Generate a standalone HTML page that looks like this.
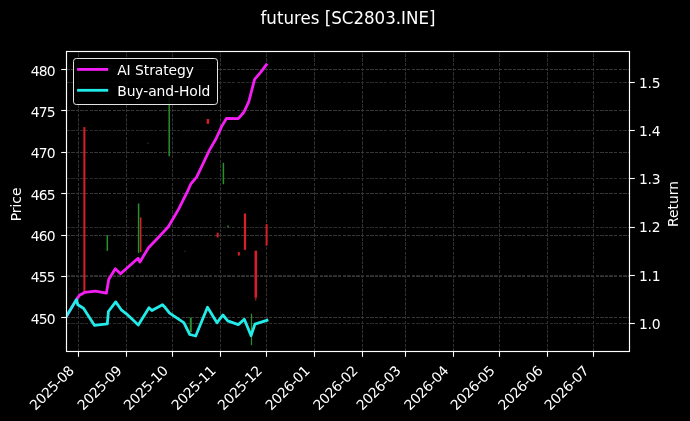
<!DOCTYPE html><html><head><meta charset="utf-8"><style>html,body{margin:0;padding:0;background:#000;}svg{display:block}text{font-family:'DejaVu Sans','Liberation Sans',sans-serif}</style></head><body>
<svg width="690" height="421" viewBox="0 0 690 421">
<rect width="690" height="421" fill="#000"/>
<g stroke-width="1" stroke-dasharray="3.4,1.2" shape-rendering="crispEdges"><line x1="78.50" y1="351.50" x2="78.50" y2="51.50" stroke="#303030"/><line x1="126.50" y1="351.50" x2="126.50" y2="51.50" stroke="#303030"/><line x1="172.50" y1="351.50" x2="172.50" y2="51.50" stroke="#303030"/><line x1="220.50" y1="351.50" x2="220.50" y2="51.50" stroke="#303030"/><line x1="266.50" y1="351.50" x2="266.50" y2="51.50" stroke="#303030"/><line x1="314.50" y1="351.50" x2="314.50" y2="51.50" stroke="#303030"/><line x1="362.50" y1="351.50" x2="362.50" y2="51.50" stroke="#303030"/><line x1="405.50" y1="351.50" x2="405.50" y2="51.50" stroke="#303030"/><line x1="453.50" y1="351.50" x2="453.50" y2="51.50" stroke="#303030"/><line x1="499.50" y1="351.50" x2="499.50" y2="51.50" stroke="#303030"/><line x1="547.50" y1="351.50" x2="547.50" y2="51.50" stroke="#303030"/><line x1="593.50" y1="351.50" x2="593.50" y2="51.50" stroke="#303030"/><line x1="66.50" y1="317.50" x2="629.50" y2="317.50" stroke="#363636"/><line x1="66.50" y1="276.50" x2="629.50" y2="276.50" stroke="#363636"/><line x1="66.50" y1="235.50" x2="629.50" y2="235.50" stroke="#363636"/><line x1="66.50" y1="193.50" x2="629.50" y2="193.50" stroke="#363636"/><line x1="66.50" y1="152.50" x2="629.50" y2="152.50" stroke="#363636"/><line x1="66.50" y1="110.50" x2="629.50" y2="110.50" stroke="#363636"/><line x1="66.50" y1="69.50" x2="629.50" y2="69.50" stroke="#363636"/><line x1="66.50" y1="323.50" x2="629.50" y2="323.50" stroke="#2a2a2a"/><line x1="66.50" y1="275.50" x2="629.50" y2="275.50" stroke="#2a2a2a"/><line x1="66.50" y1="227.50" x2="629.50" y2="227.50" stroke="#2a2a2a"/><line x1="66.50" y1="178.50" x2="629.50" y2="178.50" stroke="#2a2a2a"/><line x1="66.50" y1="130.50" x2="629.50" y2="130.50" stroke="#2a2a2a"/><line x1="66.50" y1="82.50" x2="629.50" y2="82.50" stroke="#2a2a2a"/></g>
<rect x="83.40" y="127.10" width="2.00" height="165.90" fill="#d42028"/>
<rect x="106.55" y="235.20" width="1.50" height="15.70" fill="#289028"/>
<rect x="137.85" y="203.50" width="1.50" height="49.40" fill="#289028"/>
<rect x="139.95" y="217.40" width="1.50" height="34.70" fill="#d42028"/>
<rect x="147.20" y="142.60" width="1.40" height="1.40" fill="#3a2424"/>
<rect x="168.45" y="97.00" width="1.50" height="59.30" fill="#289028"/>
<rect x="184.20" y="250.60" width="1.40" height="1.40" fill="#302020"/>
<rect x="189.80" y="317.60" width="2.00" height="14.40" fill="#289028"/>
<rect x="206.65" y="119.00" width="2.50" height="4.80" fill="#d42028"/>
<rect x="216.60" y="232.70" width="2.00" height="4.80" fill="#d42028"/>
<rect x="222.65" y="162.80" width="1.50" height="21.40" fill="#289028"/>
<rect x="227.25" y="225.50" width="1.50" height="1.70" fill="#289028"/>
<rect x="237.80" y="252.00" width="2.00" height="3.60" fill="#d42028"/>
<rect x="243.85" y="213.50" width="2.30" height="36.40" fill="#d42028"/>
<rect x="250.90" y="313.70" width="1.20" height="31.50" fill="#289028"/>
<rect x="254.50" y="250.70" width="2.60" height="47.00" fill="#d42028"/>
<rect x="255.30" y="297.70" width="1.00" height="2.80" fill="#d42028"/>
<rect x="265.60" y="224.20" width="2.00" height="21.40" fill="#d42028"/>
<defs><clipPath id="ax"><rect x="66.50" y="51.50" width="563.00" height="300.00"/></clipPath></defs>
<g clip-path="url(#ax)"><polyline fill="none" stroke="#f41ef4" stroke-width="2.8" stroke-linejoin="round" stroke-linecap="square" points="66.9,315.5 76.4,299.6 79.5,295.2 84.6,292.4 95.5,291.2 106.4,293.2 108.7,279.5 115.3,268.8 120.6,273.8 138.0,258.2 139.9,262.0 148.5,247.8 158.6,237.2 168.3,226.8 178.5,209.4 188.0,190.4 190.9,183.8 196.6,177.1 202.6,164.6 209.3,150.4 215.9,139.0 221.6,126.6 226.4,118.5 238.3,118.6 244.0,112.0 248.8,101.6 254.6,79.4 260.8,72.1 266.3,64.8"/><polyline fill="none" stroke="#22ecea" stroke-width="2.8" stroke-linejoin="round" stroke-linecap="square" points="66.9,315.5 76.4,299.6 77.8,304.8 83.5,308.2 94.4,325.3 107.3,323.8 108.4,311.5 115.7,301.9 121.6,310.2 126.4,313.8 138.3,325.0 149.0,307.8 151.9,310.5 162.5,304.8 165.4,307.8 169.6,313.2 183.8,322.7 189.8,334.5 195.7,336.0 207.5,307.2 217.0,322.7 222.9,315.0 227.7,320.9 238.3,324.6 244.3,319.2 251.1,335.6 254.9,324.2 267.0,320.3"/></g>
<rect x="66.50" y="51.50" width="563.00" height="300.00" fill="none" stroke="#fff" stroke-width="1.15"/>
<g stroke="#fff" stroke-width="1.1"><line x1="78.50" y1="351.50" x2="78.50" y2="356.80"/><line x1="126.50" y1="351.50" x2="126.50" y2="356.80"/><line x1="172.50" y1="351.50" x2="172.50" y2="356.80"/><line x1="220.50" y1="351.50" x2="220.50" y2="356.80"/><line x1="266.50" y1="351.50" x2="266.50" y2="356.80"/><line x1="314.50" y1="351.50" x2="314.50" y2="356.80"/><line x1="362.50" y1="351.50" x2="362.50" y2="356.80"/><line x1="405.50" y1="351.50" x2="405.50" y2="356.80"/><line x1="453.50" y1="351.50" x2="453.50" y2="356.80"/><line x1="499.50" y1="351.50" x2="499.50" y2="356.80"/><line x1="547.50" y1="351.50" x2="547.50" y2="356.80"/><line x1="593.50" y1="351.50" x2="593.50" y2="356.80"/><line x1="61.20" y1="317.50" x2="66.50" y2="317.50"/><line x1="61.20" y1="276.50" x2="66.50" y2="276.50"/><line x1="61.20" y1="235.50" x2="66.50" y2="235.50"/><line x1="61.20" y1="193.50" x2="66.50" y2="193.50"/><line x1="61.20" y1="152.50" x2="66.50" y2="152.50"/><line x1="61.20" y1="110.50" x2="66.50" y2="110.50"/><line x1="61.20" y1="69.50" x2="66.50" y2="69.50"/><line x1="629.50" y1="323.50" x2="634.80" y2="323.50"/><line x1="629.50" y1="275.50" x2="634.80" y2="275.50"/><line x1="629.50" y1="227.50" x2="634.80" y2="227.50"/><line x1="629.50" y1="178.50" x2="634.80" y2="178.50"/><line x1="629.50" y1="130.50" x2="634.80" y2="130.50"/><line x1="629.50" y1="82.50" x2="634.80" y2="82.50"/></g>
<g fill="#ffffff" font-size="13.89">
<text x="54.94" y="323.50" text-anchor="end" letter-spacing="-0.75">450</text>
<text x="54.94" y="282.22" text-anchor="end" letter-spacing="-0.75">455</text>
<text x="54.94" y="240.93" text-anchor="end" letter-spacing="-0.75">460</text>
<text x="54.94" y="199.65" text-anchor="end" letter-spacing="-0.75">465</text>
<text x="54.94" y="158.37" text-anchor="end" letter-spacing="-0.75">470</text>
<text x="54.94" y="117.08" text-anchor="end" letter-spacing="-0.75">475</text>
<text x="54.94" y="75.80" text-anchor="end" letter-spacing="-0.75">480</text>
<text x="639.10" y="328.90" letter-spacing="-0.3">1.0</text>
<text x="639.10" y="280.64" letter-spacing="-0.3">1.1</text>
<text x="639.10" y="232.38" letter-spacing="-0.3">1.2</text>
<text x="639.10" y="184.12" letter-spacing="-0.3">1.3</text>
<text x="639.10" y="135.86" letter-spacing="-0.3">1.4</text>
<text x="639.10" y="87.60" letter-spacing="-0.3">1.5</text>
<text x="74.80" y="371.76" text-anchor="end" letter-spacing="-0.35" transform="rotate(-45 74.80 371.76)">2025-08</text>
<text x="122.60" y="371.76" text-anchor="end" letter-spacing="-0.35" transform="rotate(-45 122.60 371.76)">2025-09</text>
<text x="168.80" y="371.76" text-anchor="end" letter-spacing="-0.35" transform="rotate(-45 168.80 371.76)">2025-10</text>
<text x="216.60" y="371.76" text-anchor="end" letter-spacing="-0.35" transform="rotate(-45 216.60 371.76)">2025-11</text>
<text x="262.80" y="371.76" text-anchor="end" letter-spacing="-0.35" transform="rotate(-45 262.80 371.76)">2025-12</text>
<text x="310.60" y="371.76" text-anchor="end" letter-spacing="-0.35" transform="rotate(-45 310.60 371.76)">2026-01</text>
<text x="358.40" y="371.76" text-anchor="end" letter-spacing="-0.35" transform="rotate(-45 358.40 371.76)">2026-02</text>
<text x="401.60" y="371.76" text-anchor="end" letter-spacing="-0.35" transform="rotate(-45 401.60 371.76)">2026-03</text>
<text x="449.30" y="371.76" text-anchor="end" letter-spacing="-0.35" transform="rotate(-45 449.30 371.76)">2026-04</text>
<text x="495.60" y="371.76" text-anchor="end" letter-spacing="-0.35" transform="rotate(-45 495.60 371.76)">2026-05</text>
<text x="543.40" y="371.76" text-anchor="end" letter-spacing="-0.35" transform="rotate(-45 543.40 371.76)">2026-06</text>
<text x="589.60" y="371.76" text-anchor="end" letter-spacing="-0.35" transform="rotate(-45 589.60 371.76)">2026-07</text>
</g>
<text x="0" y="0" font-size="13.89" fill="#ffffff" text-anchor="middle" transform="translate(21.3 204.4) rotate(-90)">Price</text>
<text x="0" y="0" font-size="13.89" fill="#ffffff" text-anchor="middle" transform="translate(677.5 204.1) rotate(-90)">Return</text>
<text x="0" y="0" font-size="16.67" fill="#ffffff" text-anchor="middle" transform="translate(348.00 23.9) scale(1 1.07)">futures [SC2803.INE]</text>
<rect x="73.5" y="58.5" width="144" height="46" rx="2.8" ry="2.8" fill="#000" fill-opacity="0.85" stroke="#e4e4e4" stroke-width="1"/>
<line x1="78.5" y1="69.4" x2="106.8" y2="69.4" stroke="#f41ef4" stroke-width="2.8" stroke-linecap="square"/>
<line x1="78.5" y1="90.3" x2="106.8" y2="90.3" stroke="#22ecea" stroke-width="2.8" stroke-linecap="square"/>
<text x="117.2" y="74.6" font-size="13.89" fill="#ffffff" letter-spacing="-0.06">AI Strategy</text>
<text x="117.2" y="95.5" font-size="13.89" fill="#ffffff" letter-spacing="-0.08">Buy-and-Hold</text>
</svg></body></html>
